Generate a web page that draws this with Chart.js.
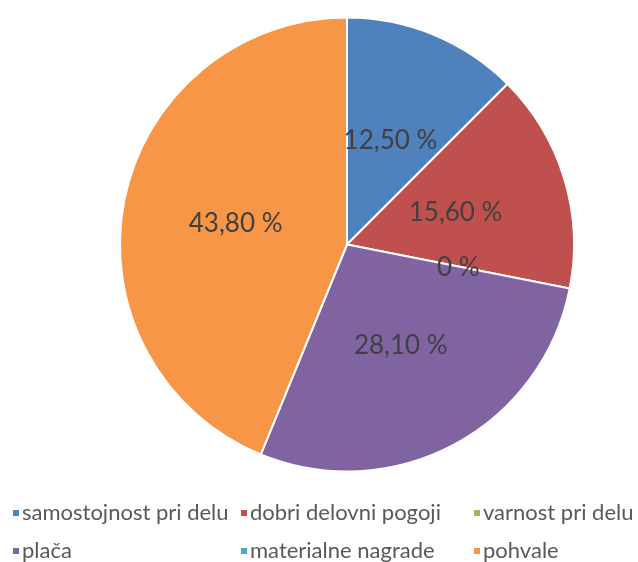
<!DOCTYPE html>
<html>
<head>
<meta charset="utf-8">
<script src="https://cdn.jsdelivr.net/npm/chart.js@4.4.1/dist/chart.umd.min.js"></script>
<style>
    html, body { margin: 0; padding: 0; background: #fff; }
    #wrap { width: 638px; height: 562px; }
</style>
</head>
<body>
<div id="wrap"><canvas id="motivationChart" width="638" height="562"></canvas></div>
<script>
"use strict";

// Categories and shares (percent)
var categories = ["samostojnost pri delu", "dobri delovni pogoji", "varnost pri delu", "plača", "materialne nagrade", "pohvale"];
var shares = [12.5, 15.6, 0, 28.1, null, 43.8];
var sliceColors = ["#4F81BD", "#C0504D", "#9BBB59", "#8064A2", "#4BACC6", "#F79646"];

var fontFamily = "Lato, 'Open Sans', sans-serif";

function formatShare(v) {
    if (v === 0) {
        return "0 %";
    }
    return v.toFixed(2).replace(".", ",") + " %";
}

// Draw value labels in the middle of each slice
var sliceLabels = {
    id: "sliceLabels",
    afterDatasetsDraw: function (chart) {
        var ctx = chart.ctx;
        var meta = chart.getDatasetMeta(0);
        ctx.save();
        ctx.font = "26px " + fontFamily;
        ctx.fillStyle = "#404040";
        ctx.textAlign = "center";
        ctx.textBaseline = "middle";
        meta.data.forEach(function (arc, i) {
            var v = shares[i];
            if (v === null) {
                return;
            }
            var pos = arc.tooltipPosition();
            ctx.fillText(formatShare(v), pos.x, pos.y + 1);
        });
        ctx.restore();
    }
};

// Legend laid out in a three column grid under the pie
var gridLegend = {
    id: "gridLegend",
    afterDraw: function (chart) {
        var ctx = chart.ctx;
        var colX = [13, 241, 474];
        var rowY = [513, 551];
        ctx.save();
        ctx.font = "22px " + fontFamily;
        ctx.textBaseline = "middle";
        ctx.textAlign = "left";
        categories.forEach(function (name, i) {
            var x = colX[i % 3];
            var y = rowY[Math.floor(i / 3)];
            ctx.fillStyle = sliceColors[i];
            ctx.fillRect(x, y - 3, 6, 6);
            ctx.fillStyle = "#595959";
            ctx.fillText(name, x + 9, y);
        });
        ctx.restore();
    }
};

window.onload = function () {
    var config = {
        type: "pie",
        data: {
            labels: categories,
            datasets: [{
                data: shares,
                backgroundColor: sliceColors,
                borderColor: "#ffffff",
                borderWidth: 2
            }]
        },
        options: {
            responsive: false,
            animation: false,
            layout: {
                padding: { top: 16, bottom: 89, left: 119, right: 63 }
            },
            plugins: {
                legend: { display: false },
                tooltip: { enabled: false }
            }
        },
        plugins: [sliceLabels, gridLegend]
    };

    var ctx = document.getElementById("motivationChart").getContext("2d");
    new Chart(ctx, config);
};
</script>
</body>
</html>
